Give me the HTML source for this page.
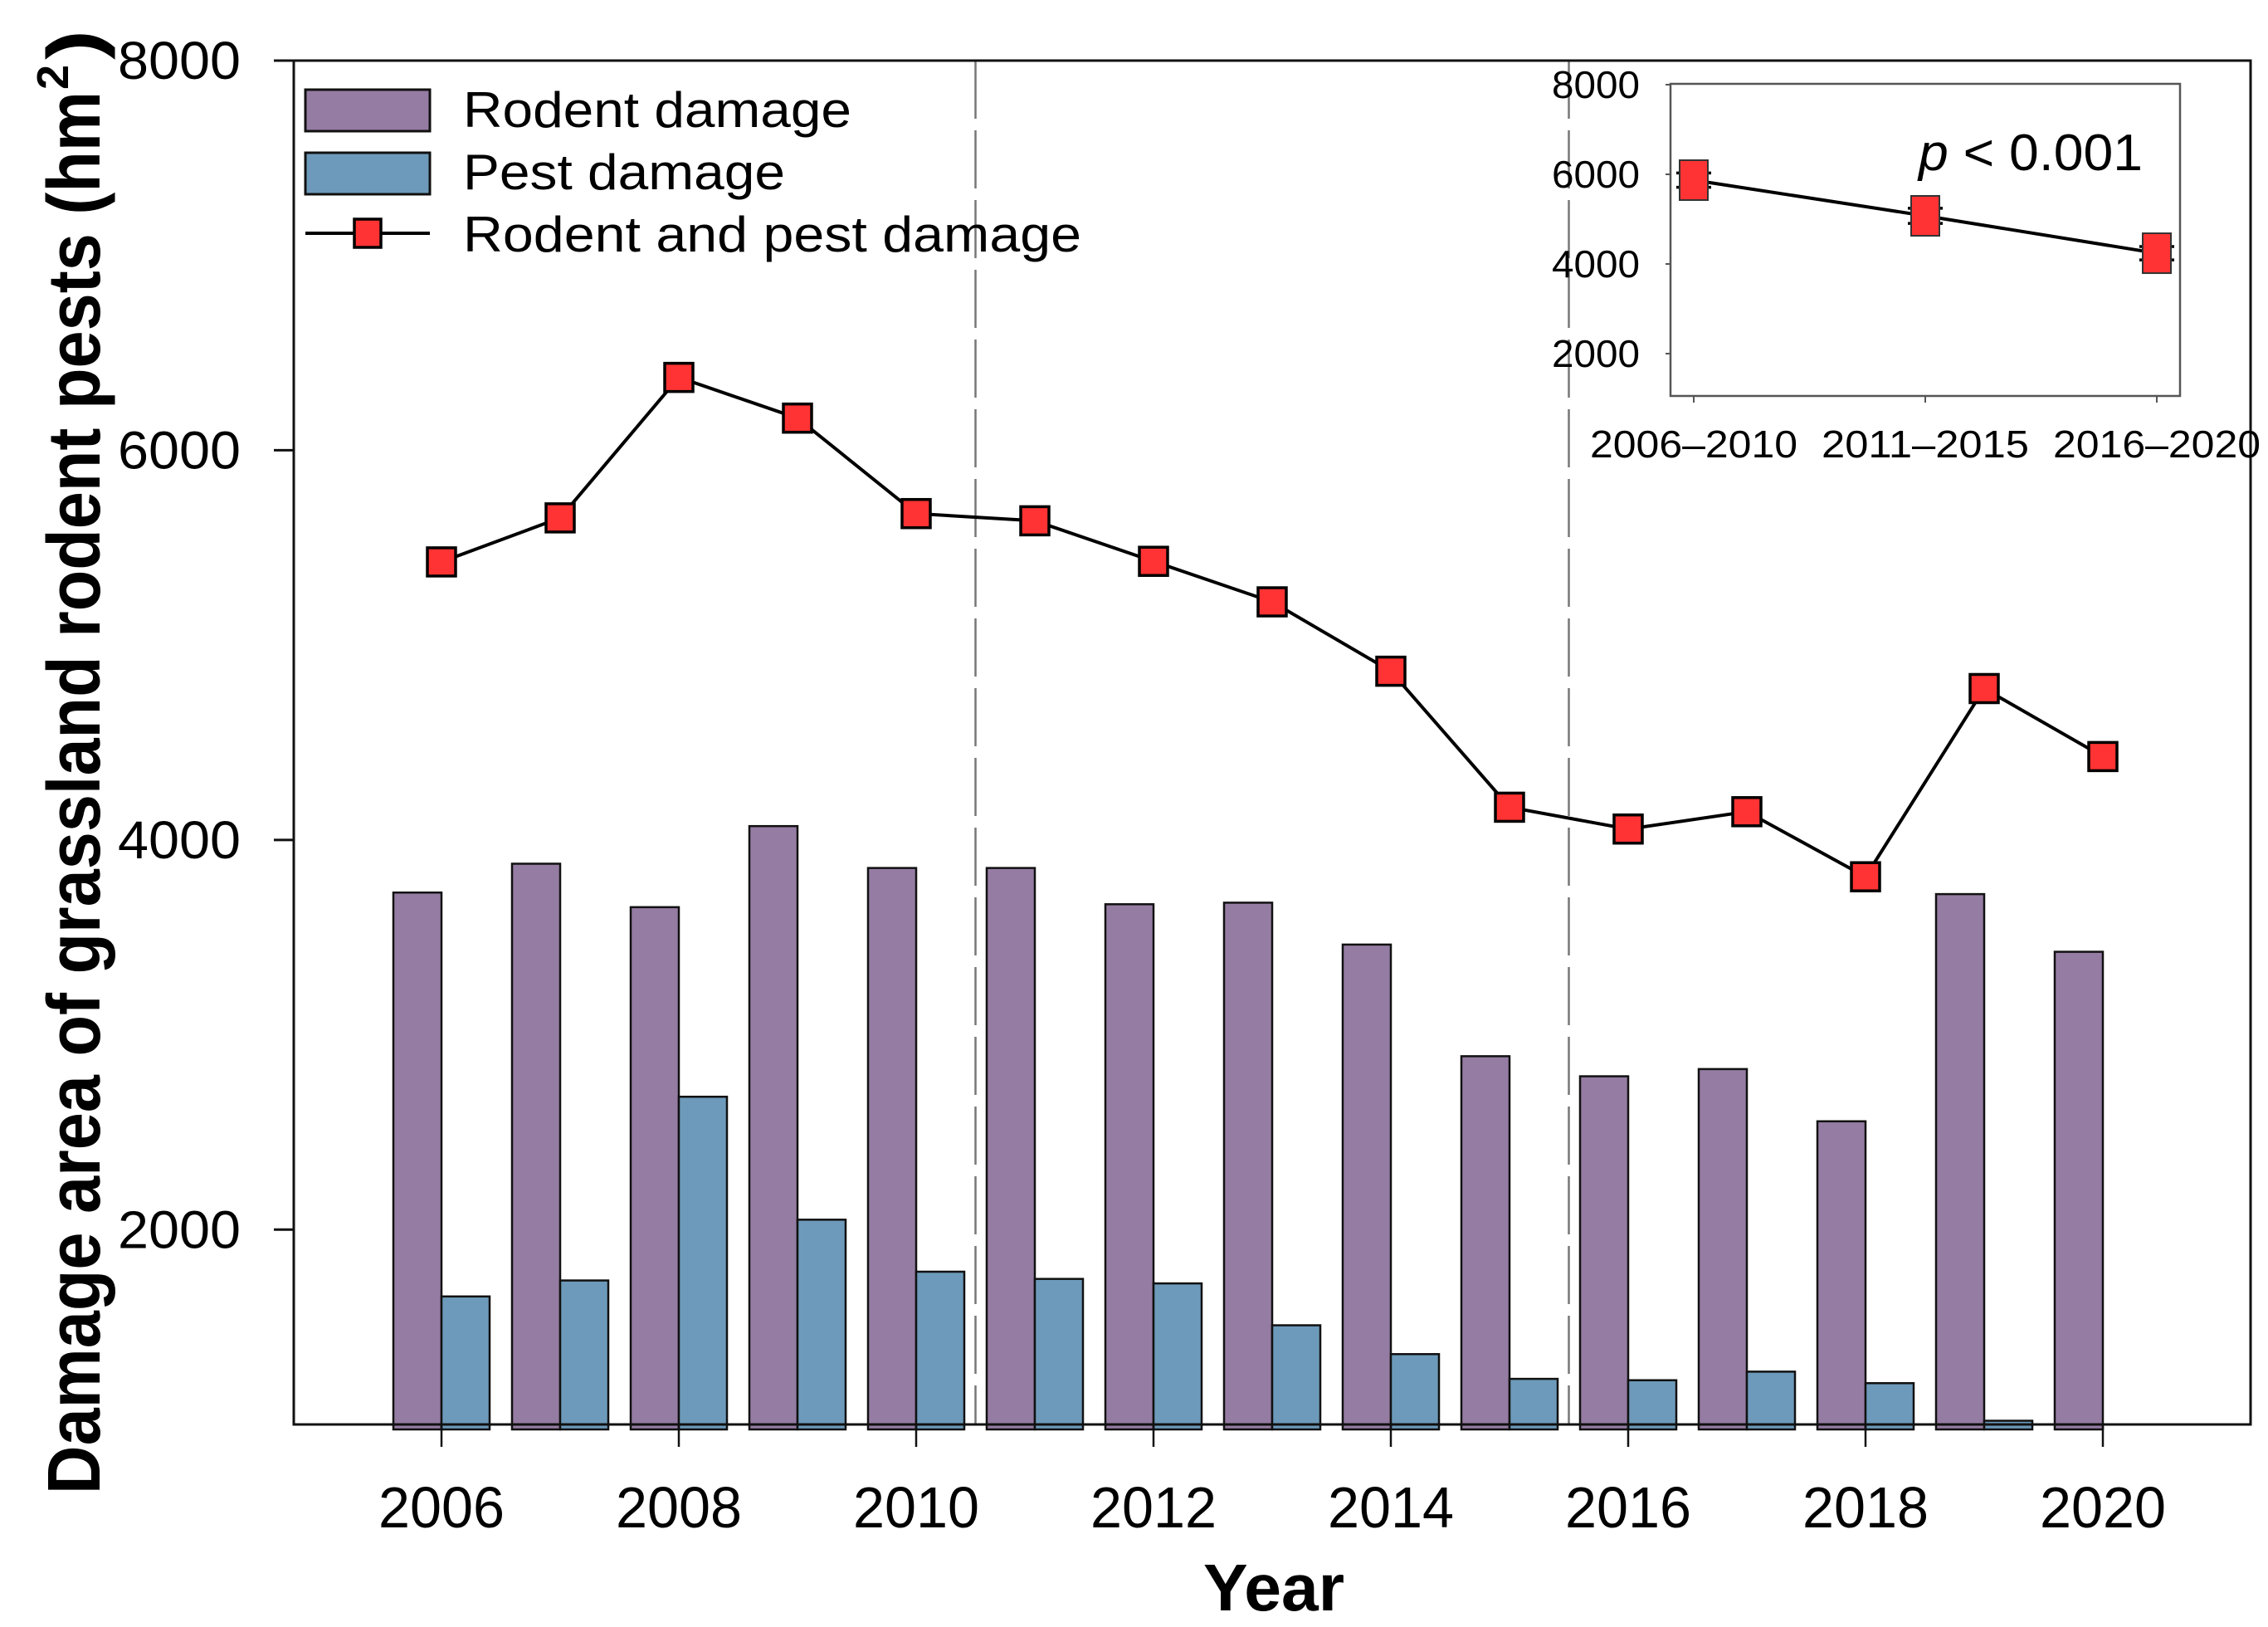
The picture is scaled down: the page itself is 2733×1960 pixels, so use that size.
<!DOCTYPE html>
<html><head><meta charset="utf-8"><title>Grassland rodent pest damage, 2006–2020</title>
<style>html,body{margin:0;padding:0;background:#fff}svg{display:block}text{font-family:"Liberation Sans",Arial,sans-serif;fill:#000}</style>
</head><body>
<svg id="chart" width="2733" height="1960" viewBox="0 0 2733 1960" xmlns="http://www.w3.org/2000/svg">
<rect x="0" y="0" width="2733" height="1960" fill="#fff"/>
<g id="main"></g>
<g id="inset"></g>
</svg>
<script>
const years = [2006,2007,2008,2009,2010,2011,2012,2013,2014,2015,2016,2017,2018,2019,2020];
const rodentDamage = [3730,3878,3655,4071,3856,3856,3670,3678,3463,2890,2787,2824,2556,3722,3426];
const pestDamage = [1657,1739,2682,2051,1784,1747,1724,1509,1361,1234,1227,1271,1212,1019,1000];
const totalDamage = [5427,5653,6374,6165,5675,5638,5430,5222,4866,4168,4056,4145,3811,4777,4428];
const yTicks = [2000,4000,6000,8000];
const xTickYears = [2006,2008,2010,2012,2014,2016,2018,2020];
const periodBreaks = [2010.5,2015.5];
const insetCategories = ["2006–2010","2011–2015","2016–2020"];
const insetMeans = [5870,5074,4240];
const insetErrors = [160,170,150];
const insetTicks = [2000,4000,6000,8000];

const NS = "http://www.w3.org/2000/svg";
function mk(parent, tag, attrs, text){
  const e = document.createElementNS(NS, tag);
  for (const k in attrs) e.setAttribute(k, attrs[k]);
  if (text !== undefined) e.textContent = text;
  parent.appendChild(e);
  return e;
}
const main = document.getElementById('main');
const L = 354, R = 2712, T = 73, B = 1716;
const yMin = 1000, yMax = 8000;
const xScale = yr => 532 + (yr - 2006) * 143;
const yScale = v => T + (yMax - v) * (B - T) / (yMax - yMin);
const barW = 58;

periodBreaks.forEach(p => {
  const l = mk(main, 'line', {x1: xScale(p), x2: xScale(p), y1: T, y2: B, stroke: '#777', 'stroke-width': 2.5, 'stroke-dasharray': '70 14'});
  
  
});

years.forEach((yr, i) => {
  const cx = xScale(yr);
  const r = mk(main, 'rect', {x: cx - barW, y: yScale(rodentDamage[i]), width: barW, height: B + 6 - yScale(rodentDamage[i]), fill: '#957ca3', stroke: '#111', 'stroke-width': 2.5});
  
  
  if (pestDamage[i] > yMin) {
    const p = mk(main, 'rect', {x: cx, y: yScale(pestDamage[i]), width: barW, height: Math.max(0, B + 6 - yScale(pestDamage[i])), fill: '#6d9aba', stroke: '#111', 'stroke-width': 2.5});
    
    
  }
});

const frame = mk(main, 'rect', {x: L, y: T, width: R - L, height: B - T, fill: 'none', stroke: '#111', 'stroke-width': 3});



yTicks.forEach(v => {
  const y = yScale(v);
  const t = mk(main, 'line', {x1: L - 24, x2: L, y1: y, y2: y, stroke: '#111', 'stroke-width': 3});
  
  
  const lb = mk(main, 'text', {x: 290, y: y + 22, 'font-size': 64, 'text-anchor': 'end', textLength: 148, lengthAdjust: 'spacingAndGlyphs'}, String(v));
  
  
});
xTickYears.forEach(yr => {
  const x = xScale(yr);
  const t = mk(main, 'line', {x1: x, x2: x, y1: B, y2: B + 27, stroke: '#111', 'stroke-width': 2.5});
  
  
  const lb = mk(main, 'text', {x: x, y: 1840, 'font-size': 70, 'text-anchor': 'middle', textLength: 152, lengthAdjust: 'spacingAndGlyphs'}, String(yr));
  
  
});

const pts = years.map((yr, i) => xScale(yr) + ',' + yScale(totalDamage[i])).join(' ');
const pl = mk(main, 'polyline', {points: pts, fill: 'none', stroke: '#000', 'stroke-width': 4});


years.forEach((yr, i) => {
  const m = mk(main, 'rect', {x: xScale(yr) - 17, y: yScale(totalDamage[i]) - 17, width: 34, height: 34, fill: '#f33', stroke: '#000', 'stroke-width': 3.5});
  
  
});

const xt = mk(main, 'text', {x: 1535, y: 1940, 'font-size': 80, 'font-weight': 'bold', 'text-anchor': 'middle', textLength: 170, lengthAdjust: 'spacingAndGlyphs'}, 'Year');


const yt = mk(main, 'text', {transform: 'translate(120,1800) rotate(-90)', 'font-size': 90, 'font-weight': 'bold', textLength: 1690, lengthAdjust: 'spacingAndGlyphs'}, 'Damage area of grassland rodent pests (hm');


const ys = mk(main, 'text', {transform: 'translate(82,108) rotate(-90)', 'font-size': 54, 'font-weight': 'bold'}, '2');


const yp = mk(main, 'text', {transform: 'translate(120,72) rotate(-90)', 'font-size': 90, 'font-weight': 'bold', textLength: 36, lengthAdjust: 'spacingAndGlyphs'}, ')');



const lg = mk(main, 'g', {});


const s1 = mk(lg, 'rect', {x: 368, y: 108, width: 150, height: 50, fill: '#957ca3', stroke: '#111', 'stroke-width': 3});


const t1 = mk(lg, 'text', {x: 558, y: 153, 'font-size': 60, textLength: 468, lengthAdjust: 'spacingAndGlyphs'}, 'Rodent damage');


const s2 = mk(lg, 'rect', {x: 368, y: 184, width: 150, height: 50, fill: '#6d9aba', stroke: '#111', 'stroke-width': 3});


const t2 = mk(lg, 'text', {x: 558, y: 228, 'font-size': 60, textLength: 388, lengthAdjust: 'spacingAndGlyphs'}, 'Pest damage');


const s3 = mk(lg, 'line', {x1: 368, x2: 518, y1: 281, y2: 281, stroke: '#000', 'stroke-width': 4});


const s4 = mk(lg, 'rect', {x: 427, y: 264, width: 32, height: 34, fill: '#f33', stroke: '#000', 'stroke-width': 3.5});


const t3 = mk(lg, 'text', {x: 558, y: 303, 'font-size': 60, textLength: 745, lengthAdjust: 'spacingAndGlyphs'}, 'Rodent and pest damage');



const inset = document.getElementById('inset');


const IL = 2013, IR = 2627, IT = 101, IB = 477;
const iyScale = v => 102 + (8000 - v) * 108 / 2000;
const ixScale = i => 2041 + i * 279;
const ib = mk(inset, 'rect', {x: IL, y: IT, width: IR - IL, height: IB - IT, fill: '#fff', stroke: '#555', 'stroke-width': 2.5});


insetTicks.forEach(v => {
  const y = iyScale(v);
  const t = mk(inset, 'line', {x1: IL - 6, x2: IL, y1: y, y2: y, stroke: '#555', 'stroke-width': 2});
  
  
  const lb = mk(inset, 'text', {x: 1976, y: y + 16, 'font-size': 46, 'text-anchor': 'end', textLength: 106, lengthAdjust: 'spacingAndGlyphs', fill: '#222'}, String(v));
  
  
});
insetCategories.forEach((c, i) => {
  const x = ixScale(i);
  const t = mk(inset, 'line', {x1: x, x2: x, y1: IB, y2: IB + 8, stroke: '#555', 'stroke-width': 2});
  
  
  const lb = mk(inset, 'text', {x: x, y: 551, 'font-size': 46, 'text-anchor': 'middle', textLength: 250, lengthAdjust: 'spacingAndGlyphs', fill: '#222'}, c);
  
  
});
const ipts = insetMeans.map((v, i) => ixScale(i) + ',' + iyScale(v)).join(' ');
const ipl = mk(inset, 'polyline', {points: ipts, fill: 'none', stroke: '#000', 'stroke-width': 4});


insetMeans.forEach((v, i) => {
  const x = ixScale(i);
  const yHi = iyScale(v + insetErrors[i]), yLo = iyScale(v - insetErrors[i]);
  const eb = mk(inset, 'path', {d: `M${x-21},${yHi}H${x+21}M${x-21},${yLo}H${x+21}M${x},${yHi}V${yLo}`, stroke: '#000', 'stroke-width': 3.5, fill: 'none'});
  
  
  const m = mk(inset, 'rect', {x: x - 17, y: iyScale(v) - 24, width: 34, height: 48, fill: '#f33', stroke: '#333', 'stroke-width': 2});
  
  
});
const pv = mk(inset, 'text', {x: 2312, y: 205, 'font-size': 62, textLength: 270, lengthAdjust: 'spacingAndGlyphs'});


mk(pv, 'tspan', {'font-style': 'italic'}, 'p');
mk(pv, 'tspan', {}, ' < 0.001');
</script>
</body></html>
